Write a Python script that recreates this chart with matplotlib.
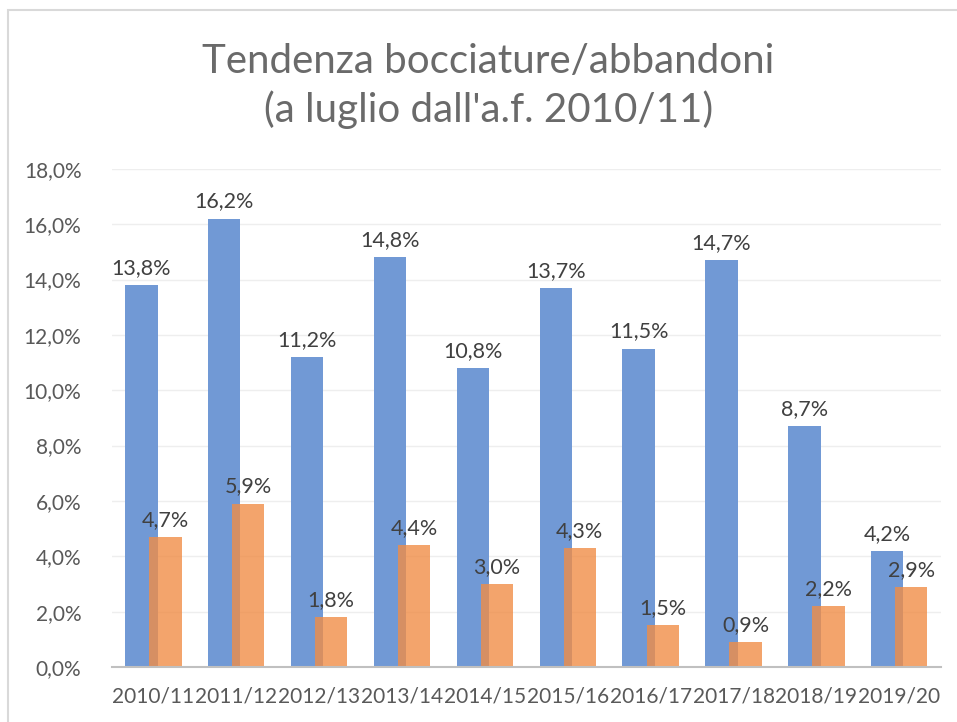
import numpy as np
import matplotlib
matplotlib.use('Agg')
import matplotlib.pyplot as plt
from matplotlib.patches import Rectangle

plt.rcParams['font.family'] = ['Lato', 'DejaVu Sans']

# dati
anni = ['2010/11', '2011/12', '2012/13', '2013/14', '2014/15',
        '2015/16', '2016/17', '2017/18', '2018/19', '2019/20']
bocciature = [13.8, 16.2, 11.2, 14.8, 10.8, 13.7, 11.5, 14.7, 8.7, 4.2]
abbandoni = [4.7, 5.9, 1.8, 4.4, 3.0, 4.3, 1.5, 0.9, 2.2, 2.9]
yticks = np.arange(0, 20, 2)

blu = '#7199d5'
arancio = '#f08d47'
grigio = '#595959'

fig = plt.figure(figsize=(9.57, 7.22), dpi=100)
ax = fig.add_axes([0.117, 0.0762, 0.866, 0.690])

x = np.arange(len(anni))
w = 0.39
ax.bar(x - 0.145, bocciature, w, color=blu, zorder=2)
ax.bar(x + 0.145, abbandoni, w, color=arancio, alpha=0.8, zorder=3)

for xi, v in zip(x, bocciature):
    ax.annotate(f'{v:.1f}%'.replace('.', ','), (xi - 0.145, v), xytext=(0, 8),
                textcoords='offset points', ha='center', va='baseline',
                fontsize=15.5, color='#404040', zorder=4)
for xi, v in zip(x, abbandoni):
    ax.annotate(f'{v:.1f}%'.replace('.', ','), (xi + 0.145, v), xytext=(0, 8),
                textcoords='offset points', ha='center', va='baseline',
                fontsize=15.5, color='#404040', zorder=4)

ax.set_xlim(-0.5, len(anni) - 0.5)
ax.set_ylim(0, 18)
ax.set_yticks(yticks)
ax.set_yticklabels([f'{t:.1f}%'.replace('.', ',') for t in yticks])
ax.set_xticks(x)
ax.set_xticklabels(anni)
ax.tick_params(axis='y', length=0, labelsize=15, labelcolor=grigio, pad=22)
ax.tick_params(axis='x', length=0, labelsize=15, labelcolor=grigio, pad=14)
ax.grid(axis='y', color='#eeeeee', linewidth=1, zorder=0)
for s in ['top', 'right', 'left']:
    ax.spines[s].set_visible(False)
ax.spines['bottom'].set_color('#c0c0c0')
ax.spines['bottom'].set_linewidth(1.5)
ax.spines['bottom'].set_zorder(5)

fig.text(0.51, 0.915, 'Tendenza bocciature/abbandoni', ha='center', va='center',
         fontsize=29, color='#6a6a6a')
fig.text(0.51, 0.848, "(a luglio dall'a.f. 2010/11)", ha='center', va='center',
         fontsize=29, color='#6a6a6a')

# cornice del grafico
fig.add_artist(Rectangle((8 / 957, -0.1), 1.2, 1.1 - 10 / 722,
                         transform=fig.transFigure, fill=False,
                         edgecolor='#d9d9d9', linewidth=1.5))

fig.savefig('out.png', dpi=100, facecolor='white')
